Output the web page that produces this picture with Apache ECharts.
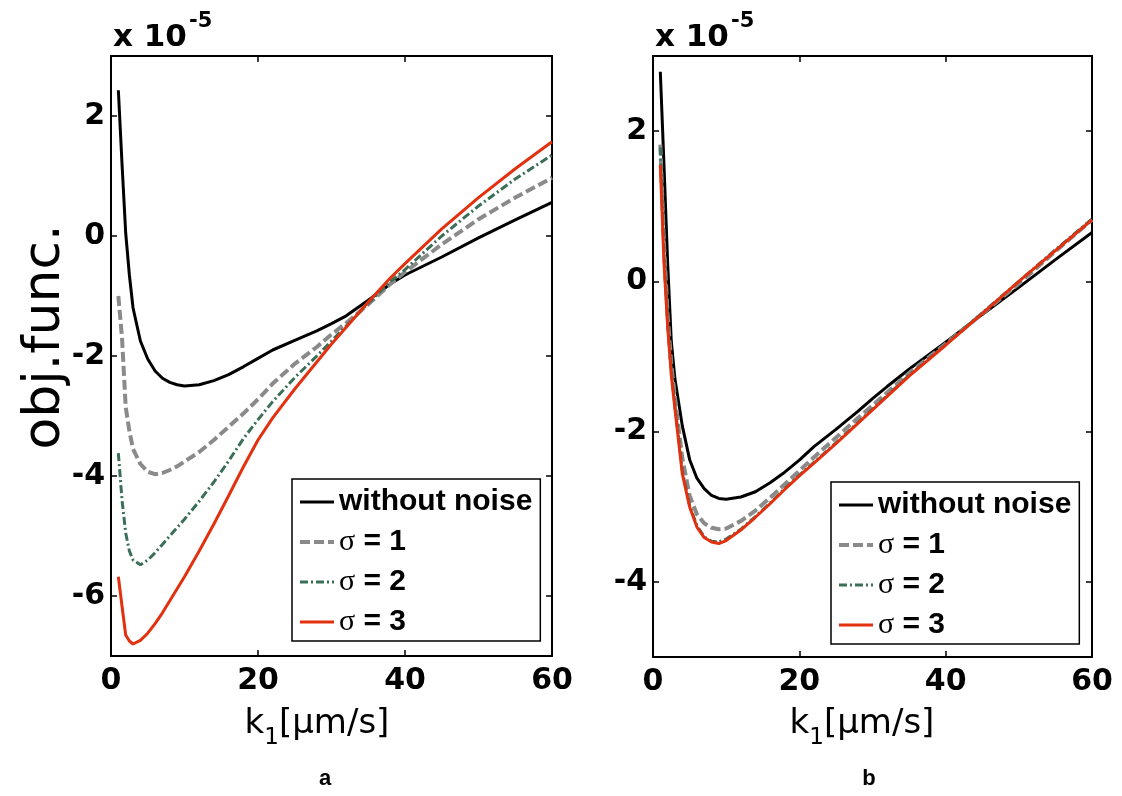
<!DOCTYPE html>
<html>
<head>
<meta charset="utf-8">
<script src="https://cdn.jsdelivr.net/npm/echarts@6/dist/echarts.min.js"></script>
<style>html,body{margin:0;background:#fff}#chart{width:1122px;height:796px}</style>
</head>
<body>
<div id="chart"></div>
<script>
// series names, shared by both panels
var names = ['without noise', 'σ = 1', 'σ = 2', 'σ = 3'];

// panel a: k1 values and obj.func. (x 1e-5)
var kA = [1,1.5,2,2.5,3,4,5,6,7,8,9,10,12,14,16,18,20,22,25,28,30,32,35,38,40,45,50,55,60];
var aNoNoise = [2.43,1.2,0.05,-0.65,-1.2,-1.75,-2.05,-2.25,-2.37,-2.44,-2.48,-2.5,-2.48,-2.41,-2.31,-2.18,-2.04,-1.9,-1.74,-1.58,-1.46,-1.33,-1.07,-0.8,-0.65,-0.35,-0.03,0.27,0.56];
var aSigma1 = [-1.0,-1.7,-2.85,-3.25,-3.55,-3.8,-3.93,-3.97,-3.95,-3.9,-3.84,-3.76,-3.6,-3.4,-3.18,-2.96,-2.72,-2.46,-2.13,-1.85,-1.64,-1.45,-1.14,-0.8,-0.6,-0.14,0.28,0.64,0.97];
var aSigma2 = [-3.62,-4.4,-4.95,-5.25,-5.4,-5.48,-5.4,-5.28,-5.14,-5.0,-4.86,-4.72,-4.42,-4.1,-3.75,-3.38,-3.06,-2.76,-2.36,-2.0,-1.75,-1.5,-1.12,-0.76,-0.56,0.0,0.5,0.95,1.35];
var aSigma3 = [-5.68,-6.17,-6.65,-6.75,-6.8,-6.74,-6.62,-6.46,-6.28,-6.08,-5.88,-5.68,-5.25,-4.8,-4.33,-3.85,-3.4,-3.03,-2.55,-2.1,-1.8,-1.52,-1.1,-0.7,-0.46,0.12,0.64,1.12,1.57];

// panel b
var kB = [1,1.5,2,2.5,3,4,5,6,7,8,9,10,12,14,16,18,20,22,25,28,30,32,35,40,45,50,55,60];
var bNoNoise = [2.79,1.55,0.25,-0.8,-1.3,-1.92,-2.37,-2.62,-2.76,-2.85,-2.89,-2.9,-2.87,-2.8,-2.68,-2.54,-2.38,-2.2,-1.97,-1.73,-1.56,-1.4,-1.17,-0.81,-0.44,-0.08,0.29,0.65];
var bSigma1 = [1.82,0.5,-0.45,-1.1,-1.55,-2.35,-2.85,-3.1,-3.22,-3.28,-3.3,-3.29,-3.19,-3.05,-2.88,-2.7,-2.52,-2.34,-2.08,-1.82,-1.65,-1.48,-1.22,-0.83,-0.43,-0.03,0.4,0.82];
var bSigma2 = [1.78,0.35,-0.55,-1.2,-1.65,-2.52,-2.98,-3.25,-3.4,-3.46,-3.47,-3.43,-3.3,-3.13,-2.95,-2.76,-2.58,-2.41,-2.15,-1.88,-1.7,-1.52,-1.25,-0.84,-0.42,0.0,0.42,0.83];
var bSigma3 = [1.55,0.25,-0.6,-1.25,-1.7,-2.56,-3.0,-3.27,-3.41,-3.47,-3.49,-3.45,-3.31,-3.14,-2.96,-2.77,-2.59,-2.42,-2.16,-1.89,-1.71,-1.53,-1.26,-0.85,-0.43,0.0,0.41,0.82];

var aYTicks = [-6, -4, -2, 0, 2];
var bYTicks = [-4, -2, 0, 2];

var styles = [
  {color: '#000000', width: 3, type: 'solid'},
  {color: '#8a8a8a', width: 4, type: [10, 4]},
  {color: '#3b6f57', width: 3, type: [8, 3, 2, 3]},
  {color: '#e3300e', width: 3, type: 'solid'}
];

var tickFont = {fontFamily: 'DejaVu Sans', fontWeight: 'bold', fontSize: 30, color: '#000'};
var axLine = {onZero: false, lineStyle: {color: '#000', width: 2}};

function xAxis(grid, pos) {
  var main = pos === 'bottom';
  return {
    type: 'value', gridIndex: grid, position: pos, min: 0, max: 60, interval: 20,
    axisLine: axLine, splitLine: {show: false},
    axisTick: {inside: true, length: 6, lineStyle: {color: '#000', width: 1.5}},
    axisLabel: Object.assign({show: main, margin: 10}, tickFont)
  };
}
function yAxis(grid, pos, min, max, ticks) {
  var main = pos === 'left';
  return {
    type: 'value', gridIndex: grid, position: pos, min: min, max: max,
    axisLine: axLine, splitLine: {show: false},
    axisTick: {inside: true, length: 6, customValues: ticks, lineStyle: {color: '#000', width: 1.5}},
    axisLabel: Object.assign({show: main, margin: 6, customValues: ticks}, tickFont)
  };
}

function pairs(ks, vals) {
  return ks.map(function (k, i) { return [k, vals[i]]; });
}
function line(i, panel, ks, vals) {
  return {
    name: names[i], type: 'line', xAxisIndex: panel * 2, yAxisIndex: panel * 2,
    data: pairs(ks, vals), symbol: 'none', showSymbol: false, smooth: false,
    lineStyle: styles[i], itemStyle: {color: styles[i].color}, z: 2 + i
  };
}

function legend(left, top) {
  return {
    orient: 'vertical', left: left, top: top, data: names,
    backgroundColor: '#fff', borderColor: '#000', borderWidth: 1.5,
    padding: [8, 8, 4, 6], itemGap: 10, itemWidth: 34, itemHeight: 14,
    selectedMode: false,
    itemStyle: {opacity: 0},
    lineStyle: {width: 'inherit', type: 'inherit'},
    formatter: function (n) {
      return n.charAt(0) === 'σ' ? '{s|σ}{b|' + n.slice(1) + '}' : '{b|' + n + '}';
    },
    textStyle: {
      lineHeight: 30,
      rich: {
        b: {fontFamily: 'Liberation Sans', fontWeight: 'bold', fontSize: 30, color: '#000'},
        s: {fontFamily: 'Liberation Serif', fontSize: 30, color: '#000'}
      }
    }
  };
}

var sci = function (x) {
  return [
    {type: 'text', x: x, y: 38, style: {text: 'x 10', font: 'bold 31px "DejaVu Sans"', fill: '#000', verticalAlign: 'middle'}},
    {type: 'text', x: x + 76, y: 22, style: {text: '-5', font: 'bold 21px "DejaVu Sans"', fill: '#000', verticalAlign: 'middle'}}
  ];
};
var kName = function (cx) {
  return {
    type: 'text', x: cx, y: 724,
    style: {
      text: '{k|k}{s|1}{k|[µm/s]}', align: 'center', verticalAlign: 'middle',
      rich: {
        k: {fontFamily: 'DejaVu Sans', fontSize: 34, fill: '#000'},
        s: {fontFamily: 'DejaVu Sans', fontSize: 23, fill: '#000', padding: [28, 0, 0, 0]}
      }
    }
  };
};

var chart = echarts.init(document.getElementById('chart'));
chart.setOption({
  backgroundColor: '#fff',
  animation: false,
  grid: [
    {left: 111, top: 56, width: 441, height: 600},
    {left: 653, top: 56, width: 439, height: 601}
  ],
  xAxis: [xAxis(0, 'bottom'), xAxis(0, 'top'), xAxis(1, 'bottom'), xAxis(1, 'top')],
  yAxis: [
    yAxis(0, 'left', -7, 3, aYTicks), yAxis(0, 'right', -7, 3, aYTicks),
    yAxis(1, 'left', -5, 3, bYTicks), yAxis(1, 'right', -5, 3, bYTicks)
  ],
  legend: [legend(292, 479), legend(831, 482)],
  series: [
    line(0, 0, kA, aNoNoise), line(1, 0, kA, aSigma1), line(2, 0, kA, aSigma2), line(3, 0, kA, aSigma3),
    line(0, 1, kB, bNoNoise), line(1, 1, kB, bSigma1), line(3, 1, kB, bSigma3), line(2, 1, kB, bSigma2)
  ],
  graphic: sci(113).concat(sci(655)).concat([
    {type: 'text', x: 45, y: 337, rotation: Math.PI / 2,
      style: {text: 'obj.func.', font: '52px "DejaVu Sans"', fill: '#000', align: 'center', verticalAlign: 'middle'}},
    kName(317), kName(862),
    {type: 'text', x: 325, y: 779, style: {text: 'a', font: 'bold 22px "Liberation Sans"', fill: '#000', align: 'center', verticalAlign: 'middle'}},
    {type: 'text', x: 869, y: 779, style: {text: 'b', font: 'bold 22px "Liberation Sans"', fill: '#000', align: 'center', verticalAlign: 'middle'}}
  ])
});
</script>
</body>
</html>
